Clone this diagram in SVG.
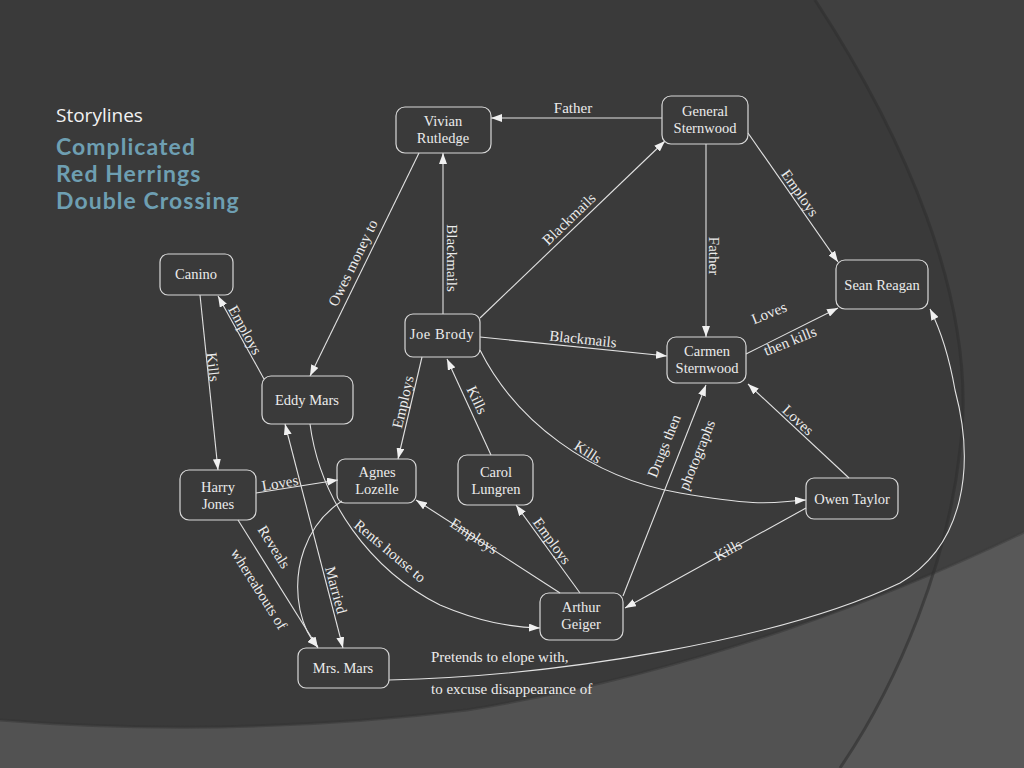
<svg xmlns="http://www.w3.org/2000/svg" width="1024" height="768" viewBox="0 0 1024 768">
<defs>
<marker id="arr" viewBox="0 0 11 8" refX="11" refY="4" markerWidth="11" markerHeight="8" markerUnits="userSpaceOnUse" orient="auto-start-reverse">
<path d="M0,0 L11,4 L0,8 z" fill="#f0f0f0"/>
</marker>
<style>
.node rect{fill:none;stroke:#d8d8d8;stroke-width:1.2}
.node text{font-family:"Liberation Serif","DejaVu Serif",serif;font-size:14.5px;fill:#ececec;text-anchor:middle}
.lbl{font-family:"Liberation Serif","DejaVu Serif",serif;font-size:15px;fill:#ececec;text-anchor:middle}
.e{fill:none;stroke:#e2e2e2;stroke-width:1.1}
.a{marker-end:url(#arr)}
.sub{font-family:Lato,"Open Sans",sans-serif;font-size:23px;font-weight:bold;fill:#6e9fb2;letter-spacing:1.05px}
</style>
</defs>
<g id="background">
<rect width="1024" height="768" fill="#3a3a3a"/>
<path d="M0,720 C150,732 300,730 467,710 C700,672 900,592 1024,532 L1024,768 L0,768 Z" fill="#525252"/>
<path d="M0,720 C150,732 300,730 467,710 C700,672 900,592 1024,532" fill="none" stroke="#333" stroke-opacity="0.5" stroke-width="3"/>
<path d="M815,0 C900,130 980,300 960,450 C948,560 900,680 840,768 L1024,768 L1024,0 Z" fill="#ffffff" fill-opacity="0.035"/>
<path d="M815,0 C900,130 980,300 960,450 C948,560 900,680 840,768" fill="none" stroke="#2e2e2e" stroke-opacity="0.6" stroke-width="3"/>
</g>
<g id="title">
<text x="56" y="122" font-family="'Open Sans','Noto Sans',sans-serif" font-size="19" fill="#f2f2f2">Storylines</text>
<text class="sub" x="56" y="155">Complicated</text>
<text class="sub" x="56" y="182">Red Herrings</text>
<text class="sub" x="56" y="209">Double Crossing</text>
</g>
<g id="connectors">
<path class="e a" d="M662,118 L491,118"/>
<path class="e a" d="M443,314 L443,153"/>
<path class="e a" d="M480,318 L665,141"/>
<path class="e a" d="M706,144 L706,337"/>
<path class="e a" d="M748,133 L838,262"/>
<path class="e a" d="M480,337 L667,356"/>
<path class="e a" d="M746,354 L838,308"/>
<path class="e a" d="M849,478 L748,384"/>
<path class="e a" d="M623,596 L706,385"/>
<path class="e a" d="M480,350 C515,420 590,478 680,493 S770,502 806,500"/>
<path class="e a" d="M806,508 L625,608"/>
<path class="e a" d="M491,455 L447,359"/>
<path class="e a" d="M422,357 L398,459"/>
<path class="e a" d="M419,153 L310,376"/>
<path class="e a" d="M264,379 L218,296"/>
<path class="e a" d="M200,295 L218,470"/>
<path class="e a" d="M256,493 L338,480"/>
<path class="e a" d="M238,520 L318,648"/>
<path class="e a" d="M285,424 L343,648" marker-start="url(#arr)"/>
<path class="e a" d="M342,501 C305,525 292,570 300,610 C304,628 311,640 318,647"/>
<path class="e a" d="M310,424 C320,500 370,570 440,605 C480,622 510,627 540,628"/>
<path class="e a" d="M560,593 L416,500"/>
<path class="e a" d="M580,593 L516,505"/>
<path class="e a" d="M389,680 C560,676 780,640 900,583 C965,545 975,465 955,390 C948,350 938,325 930,309"/>
<g id="edge-labels">
<text class="lbl" x="573" y="113">Father</text>
<text class="lbl" transform="translate(452,258) rotate(90)" y="5">Blackmails</text>
<text class="lbl" transform="translate(569,219) rotate(-44)" y="5">Blackmails</text>
<text class="lbl" transform="translate(714,256) rotate(90)" y="5">Father</text>
<text class="lbl" transform="translate(800,193) rotate(55)" y="5">Employs</text>
<text class="lbl" transform="translate(583,339) rotate(6)" y="5">Blackmails</text>
<text class="lbl" transform="translate(769,313) rotate(-22)" y="5">Loves</text>
<text class="lbl" transform="translate(790,341) rotate(-22)" y="5">then kills</text>
<text class="lbl" transform="translate(798,420) rotate(43)" y="5">Loves</text>
<text class="lbl" transform="translate(664,446) rotate(-68)" y="5">Drugs then</text>
<text class="lbl" transform="translate(697,455) rotate(-68)" y="5">photographs</text>
<text class="lbl" transform="translate(588,452) rotate(33)" y="5">Kills</text>
<text class="lbl" transform="translate(728,550) rotate(-29)" y="5">Kills</text>
<text class="lbl" transform="translate(477,400) rotate(65)" y="5">Kills</text>
<text class="lbl" transform="translate(403,402) rotate(-77)" y="5">Employs</text>
<text class="lbl" transform="translate(353,263) rotate(-64)" y="5">Owes money to</text>
<text class="lbl" transform="translate(245,330) rotate(61)" y="5">Employs</text>
<text class="lbl" transform="translate(213,367) rotate(84)" y="5">Kills</text>
<text class="lbl" transform="translate(280,483) rotate(-10)" y="5">Loves</text>
<text class="lbl" transform="translate(274,547) rotate(58)" y="5">Reveals</text>
<text class="lbl" transform="translate(259,589) rotate(58)" y="5">whereabouts of</text>
<text class="lbl" transform="translate(336,590) rotate(75)" y="5">Married</text>
<text class="lbl" transform="translate(390,551) rotate(40)" y="5">Rents house to</text>
<text class="lbl" transform="translate(474,536) rotate(33)" y="5">Employs</text>
<text class="lbl" transform="translate(552,541) rotate(54)" y="5">Employs</text>
<text class="lbl" x="431" y="662" style="text-anchor:start">Pretends to elope with,</text>
<text class="lbl" x="431" y="694" style="text-anchor:start">to excuse disappearance of</text>
</g>
</g>
<g id="n-vivian" class="node"><rect x="396" y="107" width="95" height="46" rx="9"/><text x="443" y="126">Vivian</text><text x="443" y="143">Rutledge</text></g>
<g id="n-general" class="node"><rect x="662" y="96" width="86" height="48" rx="9"/><text x="705" y="116">General</text><text x="705" y="133">Sternwood</text></g>
<g id="n-canino" class="node"><rect x="160" y="254" width="73" height="41" rx="8"/><text x="196" y="279">Canino</text></g>
<g id="n-sean" class="node"><rect x="836" y="260" width="92" height="49" rx="9"/><text x="882" y="290">Sean Reagan</text></g>
<g id="n-joe" class="node"><rect x="405" y="314" width="75" height="43" rx="8"/><text x="442" y="339" letter-spacing="0.6">Joe Brody</text></g>
<g id="n-carmen" class="node"><rect x="667" y="337" width="79" height="46" rx="9"/><text x="707" y="356">Carmen</text><text x="707" y="373">Sternwood</text></g>
<g id="n-eddy" class="node"><rect x="262" y="376" width="91" height="48" rx="9"/><text x="307" y="405">Eddy Mars</text></g>
<g id="n-agnes" class="node"><rect x="337" y="459" width="79" height="44" rx="8"/><text x="377" y="477">Agnes</text><text x="377" y="494">Lozelle</text></g>
<g id="n-carol" class="node"><rect x="458" y="455" width="75" height="50" rx="9"/><text x="496" y="477">Carol</text><text x="496" y="494">Lungren</text></g>
<g id="n-harry" class="node"><rect x="180" y="470" width="76" height="50" rx="9"/><text x="218" y="492">Harry</text><text x="218" y="509">Jones</text></g>
<g id="n-owen" class="node"><rect x="806" y="478" width="92" height="41" rx="8"/><text x="852" y="504">Owen Taylor</text></g>
<g id="n-geiger" class="node"><rect x="540" y="593" width="83" height="47" rx="9"/><text x="581" y="612">Arthur</text><text x="581" y="629">Geiger</text></g>
<g id="n-mrsmars" class="node"><rect x="298" y="648" width="91" height="40" rx="8"/><text x="343" y="673">Mrs. Mars</text></g>
</svg>
